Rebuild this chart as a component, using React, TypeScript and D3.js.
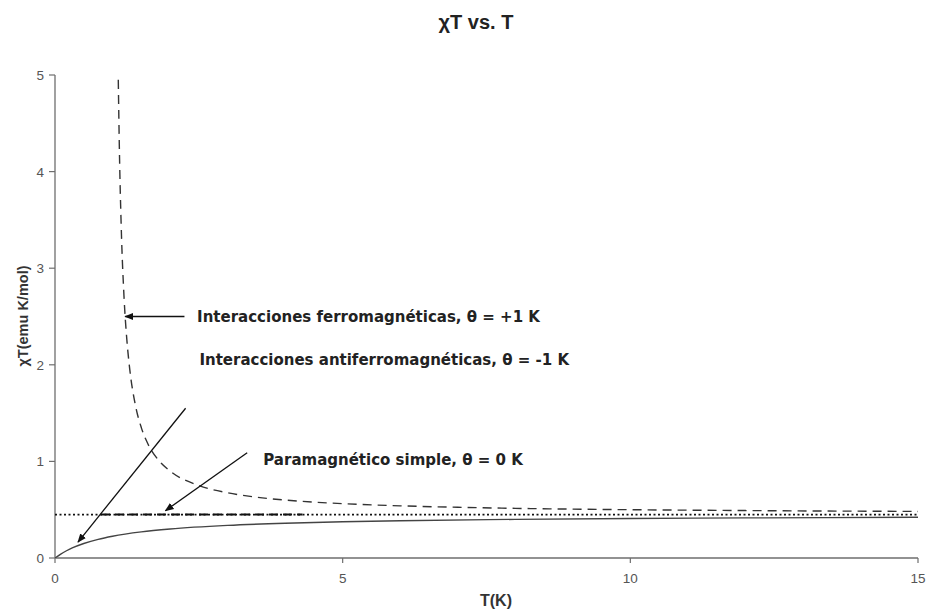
import React from "react";
import * as d3 from "d3";

const W = 943;
const H = 614;

// Ferromagnetic (θ = +1 K) curve, dashed
const ferroT = [1.1, 1.12, 1.15, 1.2, 1.25, 1.3, 1.4, 1.5, 1.6, 1.8, 2, 2.5, 3, 3.5, 4, 5, 6, 7, 8, 10, 12, 15];
const ferroChiT = [4.95, 4.2, 3.45, 2.7, 2.25, 1.95, 1.575, 1.35, 1.2, 1.0125, 0.9, 0.75, 0.675, 0.63, 0.6, 0.5625, 0.54, 0.525, 0.514, 0.5, 0.491, 0.482];

// Antiferromagnetic (θ = -1 K) curve, solid
const antiT = [0, 0.1, 0.2, 0.3, 0.5, 0.75, 1, 1.5, 2, 3, 4, 5, 6, 8, 10, 12, 15];
const antiChiT = [0, 0.041, 0.075, 0.104, 0.15, 0.193, 0.225, 0.27, 0.3, 0.3375, 0.36, 0.375, 0.386, 0.4, 0.409, 0.415, 0.422];

// Simple paramagnet (θ = 0 K), dotted
const paraT = [0, 15];
const paraChiT = [0.45, 0.45];
const paraDashT = [0.8, 4.3];

const xTicks = [0, 5, 10, 15];
const yTicks = [0, 1, 2, 3, 4, 5];

const labels = [
  "Interacciones ferromagnéticas, θ = +1 K",
  "Interacciones antiferromagnéticas, θ = -1 K",
  "Paramagnético simple, θ = 0 K",
];

export default function App() {
  const x = d3.scaleLinear().domain([0, 15]).range([55, 918]);
  const y = d3.scaleLinear().domain([0, 5]).range([558, 75]);
  const line = d3
    .line<[number, number]>()
    .x((d) => x(d[0]))
    .y((d) => y(d[1]))
    .curve(d3.curveMonotoneX);

  const ferro = ferroT.map((t, i) => [t, ferroChiT[i]] as [number, number]);
  const anti = antiT.map((t, i) => [t, antiChiT[i]] as [number, number]);
  const para = paraT.map((t, i) => [t, paraChiT[i]] as [number, number]);
  const paraDash = paraDashT.map((t) => [t, paraChiT[0]] as [number, number]);

  const axisColor = "#6e6e6e";
  const tickText = "#555";
  const annFont = "'DejaVu Sans', Verdana, sans-serif";

  return (
    <svg
      width={W}
      height={H}
      style={{ position: "absolute", left: 0, top: 0, background: "#fff" }}
      fontFamily="'Liberation Sans', Arial, sans-serif"
    >
      <defs>
        <marker id="arr" viewBox="0 0 10 10" refX="9" refY="5" markerWidth="9" markerHeight="9" markerUnits="userSpaceOnUse" orient="auto">
          <path d="M0,1 L10,5 L0,9 Z" fill="#111" />
        </marker>
        <clipPath id="plot">
          <rect x={x(0)} y={y(5)} width={x(15) - x(0)} height={y(0) - y(5)} />
        </clipPath>
      </defs>
      <rect width={W} height={H} fill="#fff" />

      {/* Title */}
      <text x={476} y={29} textAnchor="middle" fontSize={20} fontWeight="bold" fill="#222">
        χT vs. T
      </text>

      {/* Axes */}
      <line x1={x(0)} x2={x(15)} y1={y(0)} y2={y(0)} stroke={axisColor} strokeWidth={1.3} />
      <line x1={x(0)} x2={x(0)} y1={y(0)} y2={y(5)} stroke={axisColor} strokeWidth={1.3} />
      {xTicks.map((t) => (
        <g key={"xt" + t}>
          <line x1={x(t)} x2={x(t)} y1={y(0)} y2={y(0) + 5} stroke={axisColor} strokeWidth={1.2} />
          <text x={x(t)} y={y(0) + 25} textAnchor="middle" fontSize={13.5} fill={tickText}>
            {t}
          </text>
        </g>
      ))}
      {yTicks.map((t) => (
        <g key={"yt" + t}>
          <line x1={x(0) - 6} x2={x(0)} y1={y(t)} y2={y(t)} stroke={axisColor} strokeWidth={1.2} />
          <text x={x(0) - 11} y={y(t) + 5} textAnchor="end" fontSize={13.5} fill={tickText}>
            {t}
          </text>
        </g>
      ))}

      {/* Axis titles */}
      <text x={496} y={606} textAnchor="middle" fontSize={16} fontWeight="bold" fill="#333">
        T(K)
      </text>
      <text
        transform={`translate(28, ${316}) rotate(-90)`}
        textAnchor="middle"
        fontSize={14.5}
        fontWeight="bold"
        fill="#333"
      >
        χT(emu K/mol)
      </text>

      {/* Curves */}
      <g clipPath="url(#plot)">
        <path d={line(para) || ""} fill="none" stroke="#111" strokeWidth={1.8} strokeDasharray="2,2.5" />
        <path d={line(paraDash) || ""} fill="none" stroke="#111" strokeWidth={2} strokeDasharray="9,5" />
        <path d={line(anti) || ""} fill="none" stroke="#444" strokeWidth={1.4} />
        <path d={line(ferro) || ""} fill="none" stroke="#333" strokeWidth={1.4} strokeDasharray="9,6" />
      </g>

      {/* Annotations */}
      <line x1={x(2.25)} y1={y(2.5)} x2={x(1.22)} y2={y(2.5)} stroke="#111" strokeWidth={1.3} markerEnd="url(#arr)" />
      <text x={x(2.47)} y={y(2.5) + 5} fontSize={15} fontWeight="bold" fill="#222" fontFamily={annFont}>
        {labels[0]}
      </text>

      <line x1={x(2.27)} y1={y(1.55)} x2={x(0.4)} y2={y(0.165)} stroke="#111" strokeWidth={1.3} markerEnd="url(#arr)" />
      <text x={x(2.51)} y={y(2.05) + 5} fontSize={15} fontWeight="bold" fill="#222" fontFamily={annFont}>
        {labels[1]}
      </text>

      <line x1={x(3.34)} y1={y(1.09)} x2={x(1.92)} y2={y(0.49)} stroke="#111" strokeWidth={1.3} markerEnd="url(#arr)" />
      <text x={x(3.62)} y={y(1.01) + 5} fontSize={15} fontWeight="bold" fill="#222" fontFamily={annFont}>
        {labels[2]}
      </text>
    </svg>
  );
}
